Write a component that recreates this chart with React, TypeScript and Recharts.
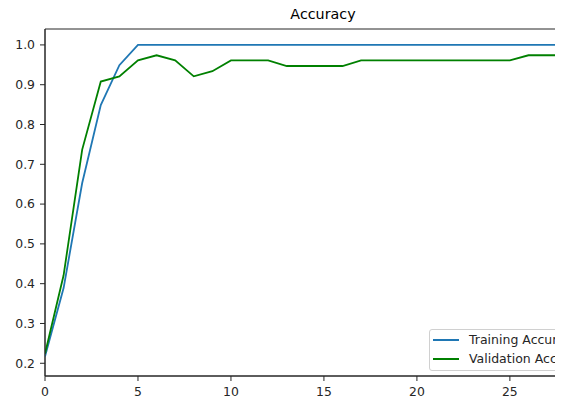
import { LineChart, Line, XAxis, YAxis, ReferenceArea } from "recharts";

const epochs = [0, 1, 2, 3, 4, 5, 6, 7, 8, 9, 10, 11, 12, 13, 14, 15, 16, 17, 18, 19, 20, 21, 22, 23, 24, 25, 26, 27, 28, 29];
const trainAcc = [0.217, 0.389, 0.653, 0.849, 0.949, 1.0, 1.0, 1.0, 1.0, 1.0, 1.0, 1.0, 1.0, 1.0, 1.0, 1.0, 1.0, 1.0, 1.0, 1.0, 1.0, 1.0, 1.0, 1.0, 1.0, 1.0, 1.0, 1.0, 1.0, 1.0];
const valAcc = [0.224, 0.421, 0.737, 0.908, 0.921, 0.961, 0.974, 0.961, 0.921, 0.934, 0.961, 0.961, 0.961, 0.947, 0.947, 0.947, 0.947, 0.961, 0.961, 0.961, 0.961, 0.961, 0.961, 0.961, 0.961, 0.961, 0.974, 0.974, 0.974, 0.974];
const xTicks = [0, 5, 10, 15, 20, 25];
const yTicks = [0.2, 0.3, 0.4, 0.5, 0.6, 0.7, 0.8, 0.9, 1.0];
const legendItems = [
  { label: "Training Accuracy", color: "#1f77b4" },
  { label: "Validation Accuracy", color: "#008000" },
];

const data = epochs.map((e, i) => ({ epoch: e, train: trainAcc[i], val: valAcc[i] }));

const FONT = "'DejaVu Sans', sans-serif";
const INK = "#262626";
const X_MAX = 29.9;
const Y_MIN = 0.168;
const Y_MAX = 1.04;

export default function App() {
  return (
    <div style={{ position: "absolute", left: 0, top: 0, width: 566, height: 396, background: "#fff" }}>
      <div style={{ position: "absolute", left: 0, top: 0, width: 555, height: 396, overflow: "hidden" }}>
        <div
          style={{
            position: "absolute",
            left: 45,
            width: 556,
            top: 6,
            textAlign: "center",
            fontFamily: FONT,
            fontSize: 14.3,
            color: "#000",
          }}
        >
          Accuracy
        </div>
        <LineChart width={620} height={396} data={data} margin={{ top: 29, right: 19, left: 0, bottom: 0 }}>
          <XAxis
            dataKey="epoch"
            type="number"
            domain={[0, X_MAX]}
            ticks={xTicks}
            allowDataOverflow
            height={20}
            tickSize={5}
            tickMargin={6}
            axisLine={{ stroke: INK }}
            tickLine={{ stroke: INK }}
            tick={{ fontSize: 12.4, fill: INK, fontFamily: FONT }}
          />
          <YAxis
            type="number"
            domain={[Y_MIN, Y_MAX]}
            ticks={yTicks}
            allowDataOverflow
            width={45}
            tickSize={5}
            tickMargin={5}
            axisLine={{ stroke: INK }}
            tickLine={{ stroke: INK }}
            tickFormatter={(v: number) => v.toFixed(1)}
            tick={{ fontSize: 12.4, fill: INK, fontFamily: FONT }}
          />
          <ReferenceArea x1={0} x2={X_MAX} y1={Y_MIN} y2={Y_MAX} fill="none" stroke={INK} strokeWidth={1} />
          <Line type="linear" dataKey="train" stroke="#1f77b4" strokeWidth={1.8} dot={false} isAnimationActive={false} />
          <Line type="linear" dataKey="val" stroke="#008000" strokeWidth={1.8} dot={false} isAnimationActive={false} />
        </LineChart>
        {/* legend, lower right of the axes (cut off by the crop like the reference) */}
        <div
          style={{
            position: "absolute",
            left: 429,
            top: 329,
            background: "rgba(255,255,255,0.8)",
            border: "1px solid #d0d0d0",
            borderRadius: 3,
            padding: "0px 6px 1px 3px",
            fontFamily: FONT,
            fontSize: 12.5,
            color: INK,
          }}
        >
          {legendItems.map((r) => (
            <div key={r.label} style={{ display: "flex", alignItems: "center", height: 19.3 }}>
              <div style={{ width: 26, height: 2, background: r.color, marginRight: 10 }} />
              <span style={{ whiteSpace: "nowrap" }}>{r.label}</span>
            </div>
          ))}
        </div>
      </div>
    </div>
  );
}
